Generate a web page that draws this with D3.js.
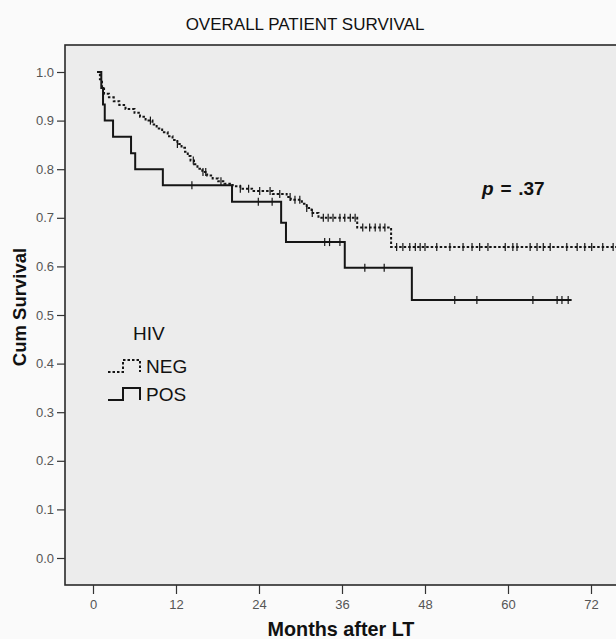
<!DOCTYPE html>
<html><head><meta charset="utf-8">
<script src="https://cdn.jsdelivr.net/npm/d3@7"></script>
<style>body{margin:0;background:#fafafa}svg{display:block}</style>
</head><body><svg id="c" width="616" height="639"></svg>
<script>
const chartTitle = "OVERALL PATIENT SURVIVAL";
const xLabel = "Months after LT";
const yLabel = "Cum Survival";
const xTicks = [0, 12, 24, 36, 48, 60, 72];
const yTicks = [0, 0.1, 0.2, 0.3, 0.4, 0.5, 0.6, 0.7, 0.8, 0.9, 1.0];
const legendTitle = "HIV";
const groups = ["NEG", "POS"];
const pText = ".37";

// NEG group: step times (months) and survival after each step
const negTimes = [0.6, 1.0, 1.3, 1.6, 2.3, 3.0, 3.8, 4.7, 6.0, 6.8, 7.6, 8.6, 9.2, 10.0, 10.8, 11.5, 12.2, 12.8, 13.3, 13.7, 14.1, 14.6, 15.1, 15.8, 16.5, 17.3, 18.1, 19.0, 20.2, 21.3, 23.0, 26.0, 28.0, 28.6, 30.2, 30.9, 31.6, 32.6, 38.2, 43.1];
const negSurv  = [1.0, 0.985, 0.970, 0.955, 0.948, 0.940, 0.932, 0.924, 0.916, 0.908, 0.900, 0.892, 0.884, 0.876, 0.868, 0.860, 0.852, 0.844, 0.836, 0.827, 0.818, 0.810, 0.801, 0.794, 0.787, 0.781, 0.775, 0.770, 0.765, 0.760, 0.755, 0.749, 0.743, 0.737, 0.729, 0.720, 0.710, 0.700, 0.680, 0.640];
const negEnd = 80;
const negCensor = [8.3, 12.2, 14.5, 15.9, 16.3, 18.5, 21.3, 22.5, 24.1, 25.6, 27.0, 28.5, 29.2, 29.9, 30.9, 31.7, 33.3, 34.0, 34.7, 35.7, 36.4, 37.2, 37.9, 39.0, 40.0, 40.8, 41.5, 42.2, 43.9, 44.8, 45.8, 46.6, 47.3, 48.0, 49.7, 51.6, 53.5, 54.8, 55.9, 57.1, 59.6, 60.7, 61.3, 63.2, 64.2, 65.1, 66.1, 68.5, 70.0, 71.1, 72.1, 73.7, 75.2];

// POS group
const posTimes = [0.6, 1.2, 1.45, 1.7, 2.9, 5.5, 6.1, 10.1, 20.1, 27.2, 27.9, 36.4, 46.1];
const posSurv  = [1.0, 0.967, 0.933, 0.900, 0.867, 0.833, 0.800, 0.767, 0.733, 0.690, 0.650, 0.597, 0.531];
const posEnd = 69.2;
const posCensor = [14.3, 23.9, 25.9, 33.5, 34.2, 35.7, 39.3, 42.1, 52.3, 55.5, 63.6, 67.1, 67.8, 68.7];

const svg = d3.select("#c");
const F = "'Liberation Sans', Arial, sans-serif";

const frame = {left: 65, top: 45, right: 640, bottom: 585};
const x = d3.scaleLinear().domain([0, 72]).range([93, 591]);
const y = d3.scaleLinear().domain([0, 1]).range([558, 72]);

svg.append("rect").attr("width", 616).attr("height", 639).attr("fill", "#fafafa");

// plot frame
svg.append("rect")
  .attr("x", frame.left).attr("y", frame.top)
  .attr("width", frame.right - frame.left).attr("height", frame.bottom - frame.top)
  .attr("fill", "#ececec").attr("stroke", "#2a2a2a").attr("stroke-width", 1.6);

// title
svg.append("text").attr("x", 305).attr("y", 30).attr("text-anchor", "middle")
  .attr("font-family", F).attr("font-size", 17).attr("fill", "#111").text(chartTitle);

// axes
const yAxis = d3.axisLeft(y).tickValues(yTicks).tickFormat(d3.format(".1f")).tickSize(8).tickSizeOuter(0).tickPadding(3);
const gy = svg.append("g").attr("transform", `translate(${frame.left},0)`).call(yAxis);
gy.select(".domain").remove();
gy.selectAll("line").attr("stroke", "#333").attr("stroke-width", 1.2);
gy.selectAll("text").attr("font-family", F).attr("font-size", 13).attr("fill", "#555");

const xAxis = d3.axisBottom(x).tickValues(xTicks).tickFormat(d3.format("d")).tickSize(9).tickSizeOuter(0).tickPadding(6);
const gx = svg.append("g").attr("transform", `translate(0,${frame.bottom})`).call(xAxis);
gx.select(".domain").remove();
gx.selectAll("line").attr("stroke", "#333").attr("stroke-width", 1.2);
gx.selectAll("text").attr("font-family", F).attr("font-size", 13).attr("fill", "#555");

// axis labels
svg.append("text").attr("x", 341).attr("y", 636).attr("text-anchor", "middle")
  .attr("font-family", F).attr("font-size", 19.8).attr("font-weight", "bold").attr("fill", "#111").text(xLabel);
svg.append("text").attr("transform", "translate(26,307) rotate(-90)").attr("text-anchor", "middle")
  .attr("font-family", F).attr("font-size", 18.5).attr("font-weight", "bold").attr("fill", "#111").text(yLabel);

// clip
svg.append("clipPath").attr("id", "clip").append("rect")
  .attr("x", frame.left).attr("y", frame.top).attr("width", 616 - frame.left).attr("height", frame.bottom - frame.top);

const stepLine = d3.line().x(d => x(d[0])).y(d => y(d[1])).curve(d3.curveStepAfter);
function pts(times, surv, end) {
  const p = times.map((t, i) => [t, surv[i]]);
  p.push([end, surv[surv.length - 1]]);
  return p;
}
function survAt(times, surv, t) {
  const i = d3.bisectRight(times, t) - 1;
  return surv[Math.max(0, i)];
}

const plot = svg.append("g").attr("clip-path", "url(#clip)");
const series = [
  {name: groups[0], times: negTimes, surv: negSurv, end: negEnd, censor: negCensor, dash: "2.5,2"},
  {name: groups[1], times: posTimes, surv: posSurv, end: posEnd, censor: posCensor, dash: null}
];
series.forEach(s => {
  plot.append("path").datum(pts(s.times, s.surv, s.end))
    .attr("d", stepLine).attr("fill", "none").attr("stroke", "#151515")
    .attr("stroke-width", 2).attr("stroke-dasharray", s.dash);
  plot.selectAll(null).data(s.censor).enter().append("line")
    .attr("x1", d => x(d)).attr("x2", d => x(d))
    .attr("y1", d => y(survAt(s.times, s.surv, d)) - 4)
    .attr("y2", d => y(survAt(s.times, s.surv, d)) + 4)
    .attr("stroke", "#151515").attr("stroke-width", 1.2);
});

// p value
const pt = svg.append("text").attr("x", 482).attr("y", 195)
  .attr("font-family", F).attr("font-size", 19).attr("font-weight", "bold").attr("fill", "#111")
  .attr("word-spacing", 1.5);
pt.append("tspan").attr("font-style", "italic").text("p");
pt.append("tspan").text(" = " + pText);

// legend
svg.append("text").attr("x", 133).attr("y", 340).attr("font-family", F).attr("font-size", 19).attr("fill", "#111").text(legendTitle);
const legY = [372, 400];
series.forEach((s, i) => {
  const yb = legY[i];
  svg.append("path")
    .attr("d", `M108,${yb}H123V${yb - 12}H140V${yb}`)
    .attr("fill", "none").attr("stroke", "#151515").attr("stroke-width", 2)
    .attr("stroke-dasharray", s.dash);
  svg.append("text").attr("x", 146).attr("y", yb + 1).attr("font-family", F).attr("font-size", 19).attr("fill", "#111").text(s.name);
});
</script></body></html>
